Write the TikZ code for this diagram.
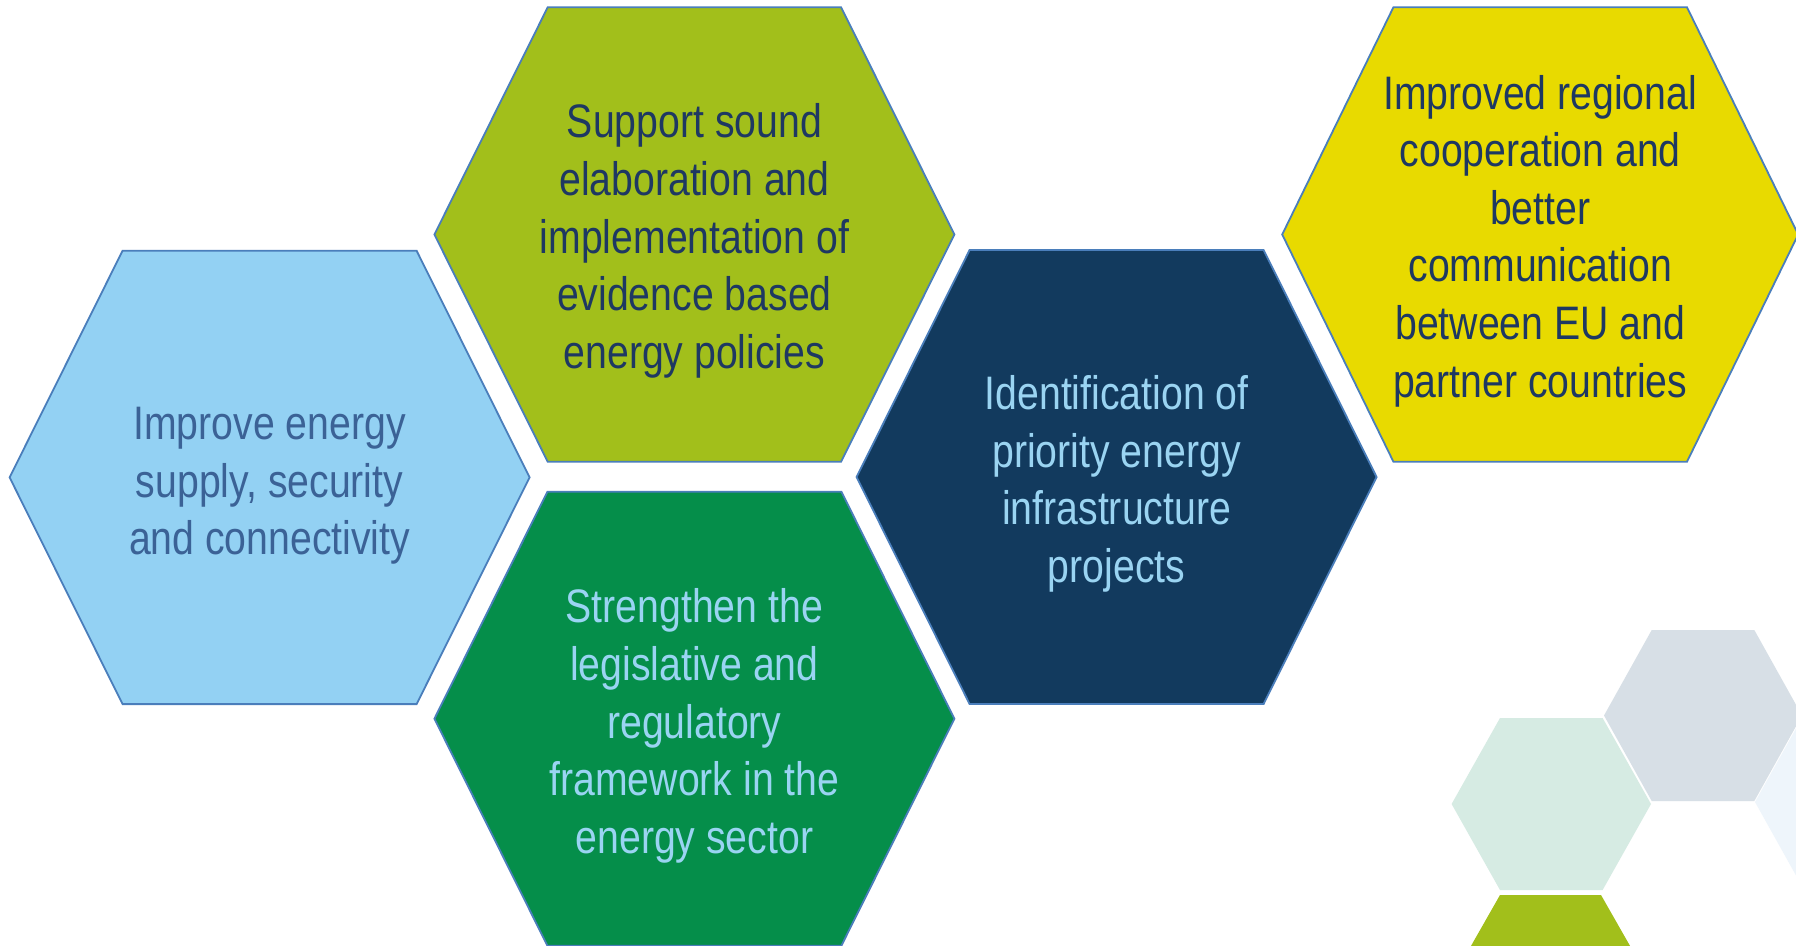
\documentclass[tikz,border=0pt]{standalone}
\usepackage{fontspec}
\setmainfont[FakeStretch=0.834]{Liberation Sans}
\definecolor{hexedge}{HTML}{4A7EBB}
\definecolor{lblue}{HTML}{93D1F3}
\definecolor{lime}{HTML}{A2BF1B}
\definecolor{dgreen}{HTML}{058E4A}
\definecolor{navy}{HTML}{123A5E}
\definecolor{yel}{HTML}{E8DA00}
\definecolor{txnavy}{HTML}{1E3862}
\definecolor{txsteel}{HTML}{3B6296}
\definecolor{txlight}{HTML}{9AD4F2}
\definecolor{decgray}{HTML}{D7DFE6}
\definecolor{decmint}{HTML}{D6EBE3}
\definecolor{decblue}{HTML}{EEF5FB}
\newcommand\hexpoly[5]{(#1-#4,#2-#5) -- (#1+#4,#2-#5) -- (#1+#3,#2) -- (#1+#4,#2+#5) -- (#1-#4,#2+#5) -- (#1-#3,#2) -- cycle}
\tikzset{
  hexline/.style={draw=hexedge, line width=1.8pt, line join=miter},
  hextext/.style={align=center, inner sep=0pt, font=\fontsize{47}{57.6}\selectfont},
}
\begin{document}
\begin{tikzpicture}[x=1pt,y=-1pt]
\useasboundingbox (0,0) rectangle (1796,945);
\clip (0,0) rectangle (1796,945);
\fill[white] (0,0) rectangle (1796,945);
% decorative hexagons
\fill[decgray] \hexpoly{1703}{715.5}{99}{51.3}{85.5};
\fill[decmint] \hexpoly{1551.3}{804}{99.7}{51.3}{86};
\fill[lime] \hexpoly{1550.5}{981}{99.5}{50.5}{86};
\fill[decblue] \hexpoly{1854}{802}{99}{51}{86};
% main hexagons
\path[hexline, fill=lblue] \hexpoly{269.6}{477.4}{260}{147}{226.7};
\path[hexline, fill=lime] \hexpoly{694.4}{234.5}{260}{146.7}{227.2};
\path[hexline, fill=dgreen] \hexpoly{694.4}{718.7}{260}{147}{227};
\path[hexline, fill=navy] \hexpoly{1116.6}{477}{260}{147}{227};
\path[hexline, fill=yel] \hexpoly{1540.2}{234.5}{258}{146.8}{227.2};
% texts
\node[hextext, text=txsteel] (t1) at (269.6,486) {Improve energy\\supply, security\\and connectivity};
\node[hextext, text=txnavy] (t2) at (694.4,241) {Support sound\\elaboration and\\implementation of\\evidence based\\energy policies};
\node[hextext, text=txlight] (t3) at (694.4,726) {Strengthen the\\legislative and\\regulatory\\framework in the\\energy sector};
\node[hextext, text=txlight] (t4) at (1116.6,484) {Identification of\\priority energy\\infrastructure\\projects};
\node[hextext, text=txnavy] (t5) at (1540.2,241) {Improved regional\\cooperation and\\better\\communication\\between EU and\\partner countries};
\end{tikzpicture}
\end{document}
